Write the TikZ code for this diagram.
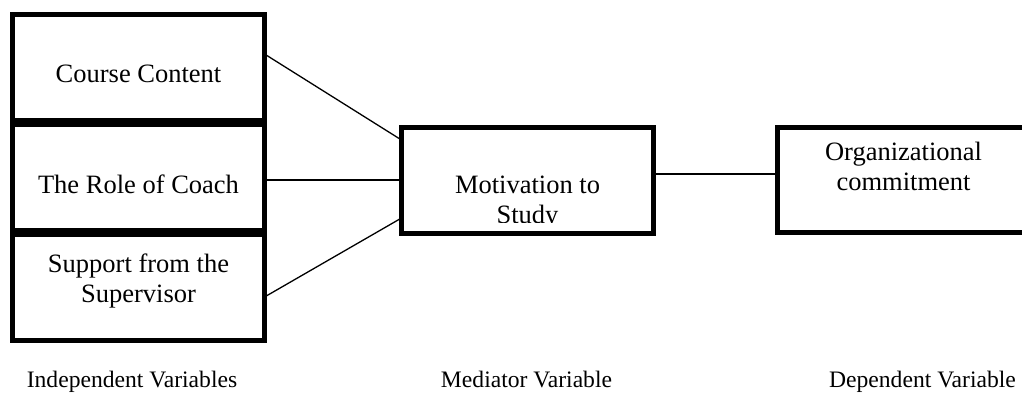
\documentclass[tikz,border=0pt]{standalone}
\usepackage{fontspec}
\setmainfont{Liberation Serif}
\usetikzlibrary{positioning}

\begin{document}
\begin{tikzpicture}[
      x=1pt, y=-1pt,
      node distance=4pt,
      box/.style={draw, line width=5pt, minimum width=252pt, minimum height=106pt, inner sep=0pt, outer sep=0pt},
      boxtext/.style={align=center, inner sep=0pt, font=\fontsize{26.5}{30}\selectfont},
      caption/.style={anchor=base, inner sep=0pt, font=\fontsize{23.6}{28}\selectfont},
      link/.style={line width=1.3pt}
    ]
      \clip (0,0) rectangle (1022,394);
      % independent variables
      \node[box] (content) at (138.5,67.5) {};
      \node[box, below=of content] (coach) {};
      \node[box, below=of coach] (support) {};
      \node[boxtext] (contenttext) at ([yshift=-6pt]content.center) {Course Content};
      \node[boxtext] (coachtext) at ([yshift=-6.5pt]coach.center) {The Role of Coach};
      \node[boxtext] (supporttext) at ([yshift=6.5pt]support.center) {Support from the\\Supervisor};
      % mediator and dependent
      \node[box] (motiv) at (527.5,180) {};
      \node[box, minimum height=105pt] (commit) at (903.5,180) {};
      \begin{scope}
        \clip (400,126) rectangle (656,222.5);
        \node[boxtext] (motivtext) at ([yshift=-22.5pt]motiv.center) {Motivation to\\Study};
      \end{scope}
      \node[boxtext] (committext) at ([yshift=13.5pt]commit.center) {Organizational\\commitment};
      % connectors
      \draw[link] ([yshift=13.5pt]content.east) -- ([yshift=40pt]motiv.west);
      \draw[link] (motiv.west -| coach.east) -- (motiv.west);
      \draw[link] ([yshift=-9.5pt]support.east) -- ([yshift=-38pt]motiv.west);
      \draw[link] ([yshift=6pt]motiv.east) -- ([yshift=6pt]commit.west);
      % captions
      \node[caption] (indep) at (132,387.5) {Independent Variables};
      \node[caption] (medi) at (526.5,387.5) {Mediator Variable};
      \node[caption] (dep) at (922.5,387.5) {Dependent Variable};
    \end{tikzpicture}
\end{document}
